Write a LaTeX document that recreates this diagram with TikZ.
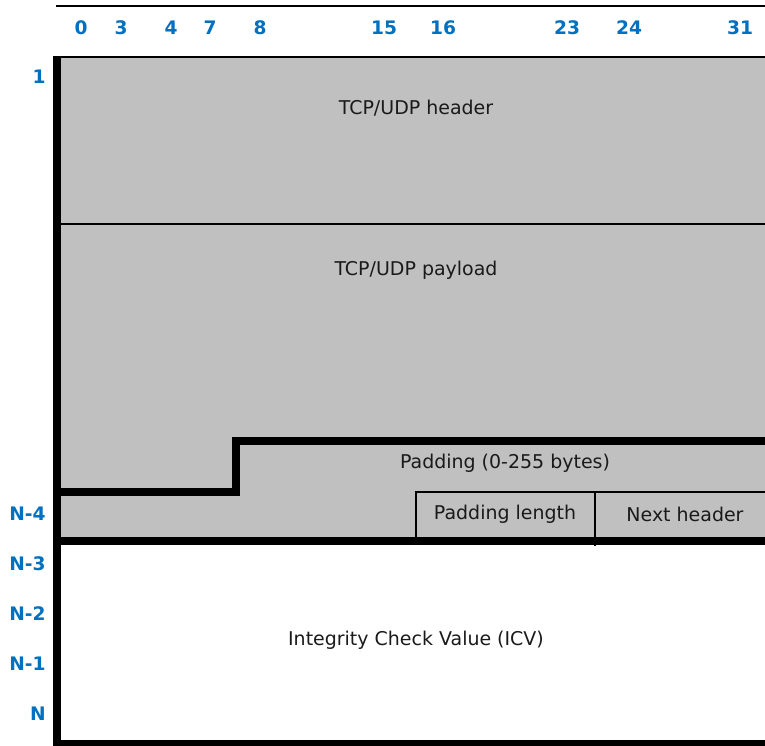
\documentclass[tikz,border=0pt]{standalone}
\usepackage{fontspec}
\setmainfont{DejaVu Sans}
\definecolor{bitblue}{HTML}{0070C0}
\definecolor{fieldgray}{HTML}{C0C0C0}
\definecolor{fieldtextcol}{HTML}{1A1A1A}

\begin{document}
\begin{tikzpicture}[x=0.02cm, y=-0.02cm,
		bitlabel/.style={text=bitblue, font=\bfseries\fontsize{10.6}{12}\selectfont, inner sep=0pt},
		rowlabel/.style={bitlabel, anchor=east},
		fieldtext/.style={text=fieldtextcol, font=\fontsize{10.8}{12}\selectfont, inner sep=0pt},
		thinline/.style={line width=0.04cm},
		thickline/.style={line width=0.16cm}]
			\useasboundingbox (0, 0) rectangle (765, 746);
			\fill[fieldgray] (57, 57) rectangle (765, 541);
			\draw[thinline] (56, 6) -- (765, 6);
			\draw[thinline] (53, 57) -- (765, 57);
			\draw[thinline] (57, 224) -- (765, 224);
			\draw[thinline] (416, 541) -- (416, 492) -- (765, 492);
			\draw[thinline] (595, 492) -- (595, 546);
			\draw[thickline] (765, 441) -- (236, 441) -- (236, 492) -- (61, 492);
			\draw[thickline] (53, 541.5) -- (765, 541.5);
			\draw[thickline] (57, 57) -- (57, 746);
			\draw[line width=0.12cm] (53, 743) -- (765, 743);
			% bit numbers
			\foreach \bit/\xpos in {0/81, 3/121, 4/171, 7/210, 8/260, 15/384, 16/443, 23/567, 24/629, 31/740}
				\node[bitlabel](B\bit) at (\xpos, 28){\bit};
			% row numbers
			\foreach \row/\ypos/\tag in {1/77/R1, N-4/514/R4, N-3/564/R3, N-2/614/R2, N-1/664/R1b, N/714/R0}
				\node[rowlabel](\tag) at (46, \ypos){\row};
			% field texts
			\node[fieldtext](F1) at (416, 108){TCP/UDP header};
			\node[fieldtext](F2) at (416, 270){TCP/UDP payload};
			\node[fieldtext](F3) at (505, 463){Padding (0-255 bytes)};
			\node[fieldtext](F4) at (505, 514){Padding length};
			\node[fieldtext](F5) at (685, 514){Next header};
			\node[fieldtext](F6) at (416, 640){Integrity Check Value (ICV)};
		\end{tikzpicture}
\end{document}
